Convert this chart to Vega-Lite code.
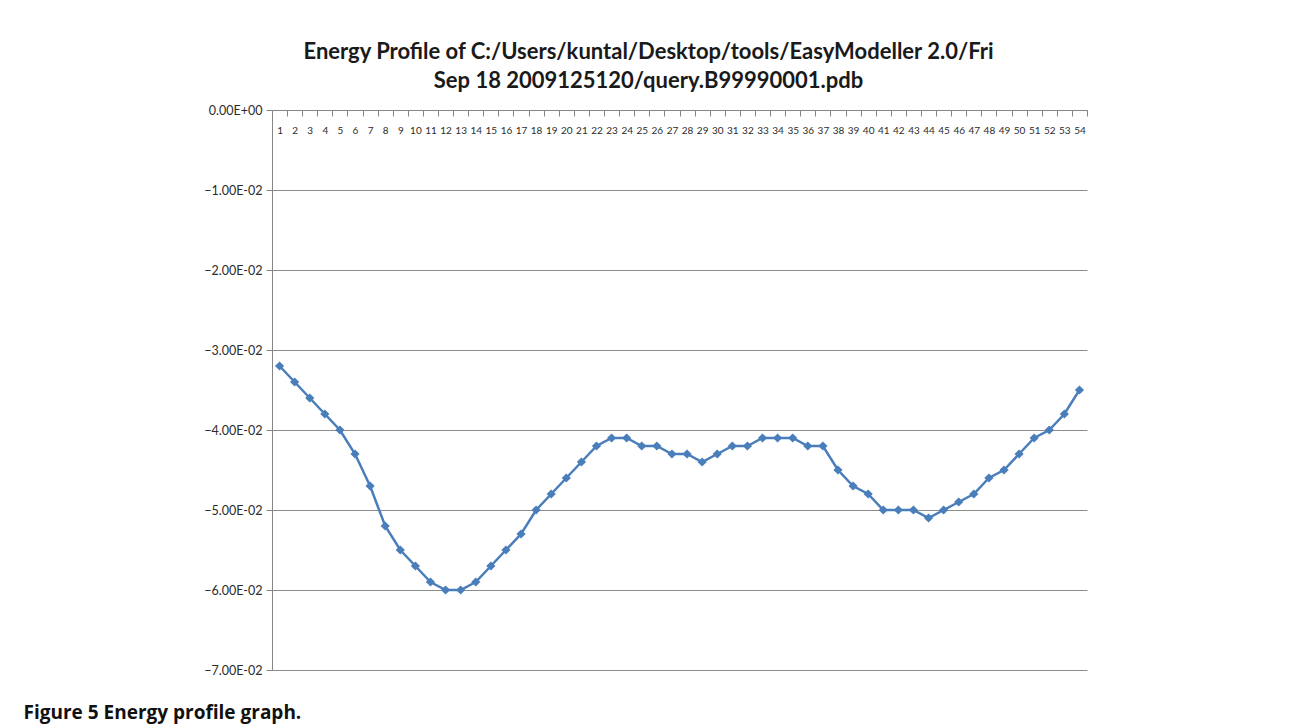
{
  "$schema": "https://vega.github.io/schema/vega-lite/v6.json",
  "width": 815,
  "height": 560,
  "autosize": {"type": "none"},
  "padding": {"left": 272, "top": 110, "right": 202, "bottom": 57},
  "background": "white",
  "title": {
    "text": ["Energy Profile of C:/Users/kuntal/Desktop/tools/EasyModeller 2.0/Fri", "Sep 18 2009125120/query.B99990001.pdb"],
    "font": "Lato",
    "fontSize": 22,
    "fontWeight": "bold",
    "color": "#1a1a1a",
    "lineHeight": 29,
    "anchor": "middle",
    "frame": "group",
    "dx": -31,
    "offset": 11
  },
  "config": {
    "view": {"stroke": null},
    "axis": {"labelFont": "Lato", "labelColor": "#2b2b2b"}
  },
  "data": {
    "values": [
      {"pos": 1, "energy": -0.032}, {"pos": 2, "energy": -0.034}, {"pos": 3, "energy": -0.036},
      {"pos": 4, "energy": -0.038}, {"pos": 5, "energy": -0.040}, {"pos": 6, "energy": -0.043},
      {"pos": 7, "energy": -0.047}, {"pos": 8, "energy": -0.052}, {"pos": 9, "energy": -0.055},
      {"pos": 10, "energy": -0.057}, {"pos": 11, "energy": -0.059}, {"pos": 12, "energy": -0.060},
      {"pos": 13, "energy": -0.060}, {"pos": 14, "energy": -0.059}, {"pos": 15, "energy": -0.057},
      {"pos": 16, "energy": -0.055}, {"pos": 17, "energy": -0.053}, {"pos": 18, "energy": -0.050},
      {"pos": 19, "energy": -0.048}, {"pos": 20, "energy": -0.046}, {"pos": 21, "energy": -0.044},
      {"pos": 22, "energy": -0.042}, {"pos": 23, "energy": -0.041}, {"pos": 24, "energy": -0.041},
      {"pos": 25, "energy": -0.042}, {"pos": 26, "energy": -0.042}, {"pos": 27, "energy": -0.043},
      {"pos": 28, "energy": -0.043}, {"pos": 29, "energy": -0.044}, {"pos": 30, "energy": -0.043},
      {"pos": 31, "energy": -0.042}, {"pos": 32, "energy": -0.042}, {"pos": 33, "energy": -0.041},
      {"pos": 34, "energy": -0.041}, {"pos": 35, "energy": -0.041}, {"pos": 36, "energy": -0.042},
      {"pos": 37, "energy": -0.042}, {"pos": 38, "energy": -0.045}, {"pos": 39, "energy": -0.047},
      {"pos": 40, "energy": -0.048}, {"pos": 41, "energy": -0.050}, {"pos": 42, "energy": -0.050},
      {"pos": 43, "energy": -0.050}, {"pos": 44, "energy": -0.051}, {"pos": 45, "energy": -0.050},
      {"pos": 46, "energy": -0.049}, {"pos": 47, "energy": -0.048}, {"pos": 48, "energy": -0.046},
      {"pos": 49, "energy": -0.045}, {"pos": 50, "energy": -0.043}, {"pos": 51, "energy": -0.041},
      {"pos": 52, "energy": -0.040}, {"pos": 53, "energy": -0.038}, {"pos": 54, "energy": -0.035}
    ]
  },
  "encoding": {
    "x": {
      "field": "pos",
      "type": "ordinal",
      "sort": null,
      "scale": {"type": "band", "paddingInner": 0, "paddingOuter": 0},
      "axis": {
        "orient": "bottom",
        "offset": -560,
        "title": null,
        "labelAngle": 0,
        "labelFontSize": 10,
        "labelPadding": 9,
        "labelOverlap": false,
        "labelBound": false,
        "labelFlush": false,
        "tickBand": "extent",
        "tickSize": 6,
        "tickColor": "#868686",
        "domainColor": "#868686",
        "grid": false
      }
    },
    "y": {
      "field": "energy",
      "type": "quantitative",
      "scale": {"domain": [-0.07, 0], "nice": false, "zero": false},
      "axis": {
        "values": [-0.07, -0.06, -0.05, -0.04, -0.03, -0.02, -0.01, 0],
        "labelExpr": "datum.value == 0 ? '0.00E+00' : format(datum.value * 100, '.2f') + 'E-02'",
        "labelFontSize": 12.5,
        "labelPadding": 4,
        "tickSize": 6,
        "tickColor": "#868686",
        "domainColor": "#868686",
        "grid": true,
        "gridColor": "#8c8c8c",
        "gridWidth": 1,
        "title": "Figure 5 Energy profile graph.",
        "titleAngle": 0,
        "titleAlign": "left",
        "titleBaseline": "alphabetic",
        "titleX": -249,
        "titleY": 608,
        "titleFont": "Open Sans",
        "titleFontSize": 19,
        "titleFontWeight": "bold",
        "titleColor": "#111111"
      }
    }
  },
  "layer": [
    {"mark": {"type": "line", "color": "#4a7ebb", "strokeWidth": 2.5}},
    {"mark": {"type": "point", "shape": "diamond", "filled": true, "color": "#4a7ebb", "opacity": 1, "size": 85}}
  ]
}
